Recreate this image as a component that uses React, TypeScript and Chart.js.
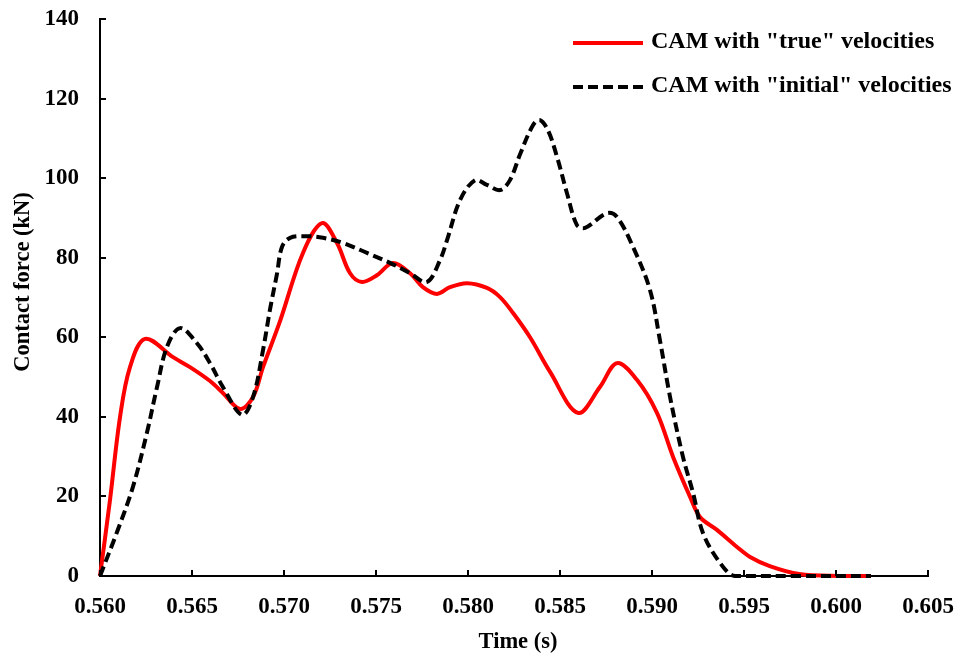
import { useEffect, useRef } from "react";
import { Chart, registerables } from "chart.js";

Chart.register(...registerables);

const FONT = "'Liberation Serif', 'Times New Roman', serif";

// Contact force history computed with the "true" velocities
const trueTime = [
  0.56, 0.56054, 0.56109, 0.56163, 0.56245, 0.56397, 0.56489, 0.56598, 0.56668,
  0.56761, 0.56832, 0.56886, 0.56978, 0.57103, 0.57207, 0.57288, 0.57359, 0.57424,
  0.57505, 0.57592, 0.57685, 0.57755, 0.57832, 0.57902, 0.57995, 0.58103, 0.58174,
  0.58245, 0.58337, 0.58446, 0.58598, 0.58717, 0.5881, 0.58918, 0.59027, 0.59114,
  0.59207, 0.59261, 0.59353, 0.59462, 0.59533, 0.5964, 0.598, 0.6002, 0.6019,
];
const trueForce = [
  0, 19, 40, 52.5, 59.6, 55, 52.5, 49, 46,
  42, 45, 52.5, 64, 81.2, 88.7, 83.7, 76.1, 73.9,
  75.6, 78.7, 76.1, 72.6, 70.9, 72.6, 73.6, 72.4, 70.1,
  66.1, 60, 51.3, 41, 47.5, 53.5, 49.3, 41, 30,
  19.9, 14.8, 11.6, 7.3, 4.8, 2.5, 0.5, 0, 0,
];

// Contact force history computed with the "initial" velocities
const initialTime = [
  0.56, 0.56092, 0.56179, 0.56255, 0.5631, 0.56364, 0.56435, 0.56527, 0.56598,
  0.56668, 0.56772, 0.56832, 0.56886, 0.56924, 0.56962, 0.56989, 0.57033, 0.57125,
  0.57212, 0.57321, 0.57451, 0.57576, 0.57685, 0.57777, 0.57848, 0.57886, 0.57957,
  0.58038, 0.58103, 0.58174, 0.58228, 0.58283, 0.58353, 0.58391, 0.58435, 0.58484,
  0.58538, 0.58592, 0.58636, 0.58755, 0.5881, 0.58897, 0.58989, 0.59043, 0.59098,
  0.59168, 0.59223, 0.59277, 0.5937, 0.59451, 0.598, 0.6019,
];
const initialForce = [
  0, 11, 22.4, 36, 47.5, 57.6, 62.3, 58.5, 53.5,
  47.5, 40.5, 45, 56.8, 67, 76, 82.7, 85, 85.4,
  85, 83.7, 81.2, 78.7, 76.1, 73.9, 79.4, 84.4, 94.5,
  99.5, 98.3, 97, 99.5, 106, 113.3, 114.6, 112, 105.3,
  96.2, 88.2, 87.5, 91.2, 90.2, 82.7, 71.9, 59.3, 45,
  30, 20.9, 10.8, 3.3, 0, 0, 0,
];

const seriesLabels = ['CAM with "true" velocities', 'CAM with "initial" velocities'];
const xTitle = "Time (s)";
const yTitle = "Contact force (kN)";
const xMin = 0.56;
const xMax = 0.605;
const xStep = 0.005;
const yMin = 0;
const yMax = 140;
const yStep = 20;

// Inward tick marks, axis titles and the legend box
const decorations = {
  id: "decorations",
  afterDraw(chart: any) {
    const { ctx, chartArea, scales } = chart;
    const xs = scales.x;
    const ys = scales.y;
    ctx.save();
    ctx.strokeStyle = "#000";
    ctx.lineWidth = 2;
    ctx.beginPath();
    xs.ticks.forEach((t: any) => {
      const px = Math.round(xs.getPixelForValue(t.value));
      ctx.moveTo(px, chartArea.bottom);
      ctx.lineTo(px, chartArea.bottom - 6);
    });
    ys.ticks.forEach((t: any) => {
      const py = Math.round(ys.getPixelForValue(t.value));
      ctx.moveTo(chartArea.left, py);
      ctx.lineTo(chartArea.left + 6, py);
    });
    ctx.stroke();

    // axis titles
    ctx.fillStyle = "#000";
    ctx.font = `bold 22.5px ${FONT}`;
    ctx.textAlign = "center";
    ctx.textBaseline = "middle";
    ctx.fillText(xTitle, (chartArea.left + chartArea.right) / 2 + 4, chartArea.bottom + 66);
    ctx.save();
    ctx.translate(23, chartArea.top + 263);
    ctx.rotate(-Math.PI / 2);
    ctx.fillText(yTitle, 0, 0);
    ctx.restore();

    // legend
    const lx0 = chartArea.right - 355;
    const lx1 = chartArea.right - 285;
    const tx = chartArea.right - 277;
    const rows = [chartArea.top + 24, chartArea.top + 68];
    ctx.font = `bold 24px ${FONT}`;
    ctx.textAlign = "left";
    chart.data.datasets.forEach((ds: any, i: number) => {
      const y = rows[i];
      ctx.save();
      ctx.strokeStyle = ds.borderColor;
      ctx.lineWidth = ds.borderWidth;
      ctx.setLineDash(ds.borderDash || []);
      ctx.beginPath();
      ctx.moveTo(lx0, y);
      ctx.lineTo(lx1, y);
      ctx.stroke();
      ctx.restore();
      ctx.fillText(ds.label, tx, y - 1);
    });
    ctx.restore();
  },
};

export default function App() {
  const canvasRef = useRef<HTMLCanvasElement | null>(null);

  useEffect(() => {
    const canvas = canvasRef.current;
    if (!canvas) return;
    const chart = new Chart(canvas, {
      type: "line",
      data: {
        datasets: [
          {
            label: seriesLabels[0],
            data: trueTime.map((t, i) => ({ x: t, y: trueForce[i] })),
            borderColor: "#ff0000",
            borderWidth: 4,
            pointRadius: 0,
            tension: 0.35,
            clip: false,
            order: 1,
          },
          {
            label: seriesLabels[1],
            data: initialTime.map((t, i) => ({ x: t, y: initialForce[i] })),
            borderColor: "#000000",
            borderWidth: 4,
            borderDash: [10, 5],
            pointRadius: 0,
            tension: 0.35,
            clip: false,
            order: 0,
          },
        ],
      },
      options: {
        responsive: false,
        animation: false,
        layout: { padding: { left: 0, right: 28, top: 19, bottom: 0 } },
        plugins: {
          legend: { display: false },
          tooltip: { enabled: false },
        },
        scales: {
          x: {
            type: "linear",
            min: xMin,
            max: xMax,
            grid: { display: false, drawTicks: false },
            border: { display: true, color: "#000", width: 2 },
            ticks: {
              stepSize: xStep,
              color: "#000",
              padding: 17,
              maxRotation: 0,
              font: { family: FONT, size: 23, weight: "bold" },
              callback: (v: any) => Number(v).toFixed(3),
            },
            afterFit: (scale: any) => {
              scale.height = 83;
              scale.paddingLeft = 0;
              scale.paddingRight = 0;
            },
          },
          y: {
            type: "linear",
            min: yMin,
            max: yMax,
            grid: { display: false, drawTicks: false },
            border: { display: true, color: "#000", width: 2 },
            ticks: {
              stepSize: yStep,
              color: "#000",
              padding: 21,
              font: { family: FONT, size: 23, weight: "bold" },
            },
            afterFit: (scale: any) => {
              scale.width = 100;
              scale.paddingTop = 0;
              scale.paddingBottom = 0;
            },
          },
        },
      },
      plugins: [decorations],
    });
    return () => chart.destroy();
  }, []);

  return (
    <div style={{ position: "fixed", left: 0, top: 0, width: 956, height: 659, background: "#fff" }}>
      <canvas ref={canvasRef} width={956} height={659} style={{ display: "block" }} />
    </div>
  );
}
